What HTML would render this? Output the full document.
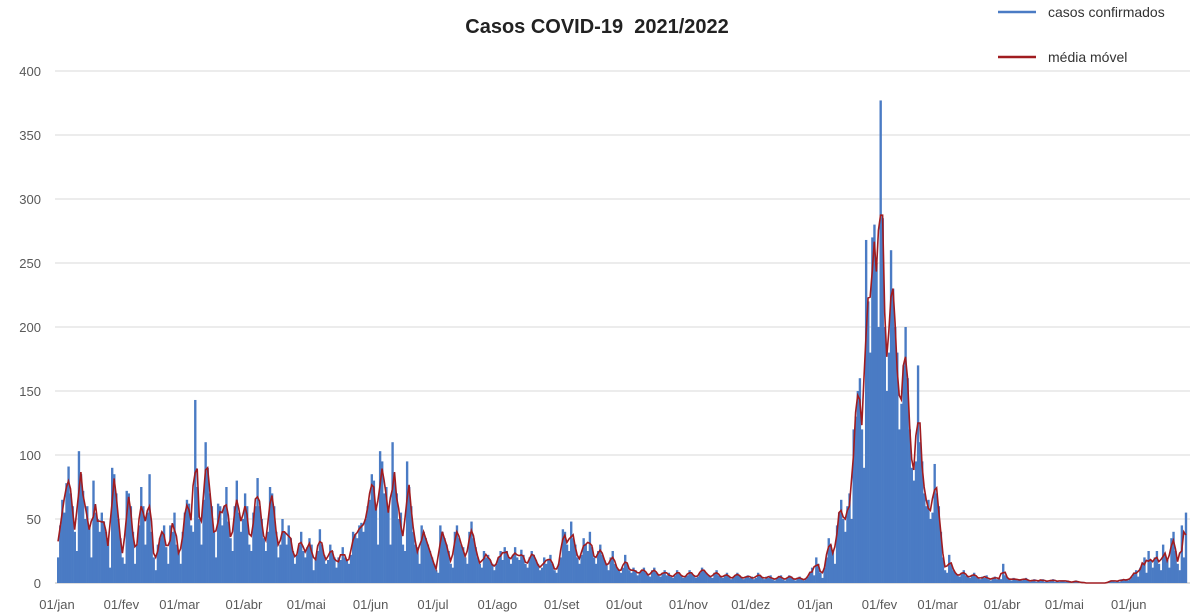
<!DOCTYPE html>
<html><head><meta charset="utf-8"><style>
body{margin:0;background:#fff;font-family:"Liberation Sans",sans-serif}
svg{display:block}
</style></head><body>
<svg id="chart" width="1200" height="615">
<text x="597" y="33" text-anchor="middle" font-size="20" font-weight="bold" fill="#222" style="white-space:pre">Casos COVID-19  2021/2022</text>
<g>
<line x1="998" y1="12" x2="1036" y2="12" stroke="#4a7bc4" stroke-width="2.5"/>
<text x="1048" y="17" font-size="14" fill="#333">casos confirmados</text>
<line x1="998" y1="57" x2="1036" y2="57" stroke="#a01c20" stroke-width="2.5"/>
<text x="1048" y="62" font-size="14" fill="#333">média móvel</text>
</g>
<g id="grid"></g><g id="bars"></g><g id="line"></g><g id="xl"></g>
</svg>
<script>
const yTicks=[0,50,100,150,200,250,300,350,400];
const xLabels=["01/jan","01/fev","01/mar","01/abr","01/mai","01/jun","01/jul","01/ago","01/set","01/out","01/nov","01/dez","01/jan","01/fev","01/mar","01/abr","01/mai","01/jun"];
const monthLengths=[31,28,31,30,31,30,31,31,30,31,30,31,31,28,31,30,31,28];
const cases=[
20,45,65,55,78,91,70,60,40,25,103,85,72,50,60,45,20,80,55,50,40,55,48,40,35,12,90,85,70,50,35,
20,15,72,70,60,40,15,30,45,75,60,30,55,85,40,20,10,30,35,40,45,28,15,45,40,55,30,25,
15,40,55,65,62,45,40,143,75,50,30,65,110,90,70,60,40,20,62,60,45,60,75,48,35,25,60,80,55,40,50,
70,60,30,25,55,60,82,60,50,35,25,40,75,70,60,40,20,30,50,40,30,45,35,25,15,22,30,40,25,20,
28,35,30,10,20,25,42,30,22,15,18,30,25,20,12,20,18,28,20,18,15,22,40,38,35,45,47,40,50,60,65,
85,80,60,30,103,95,70,75,60,30,110,80,70,50,55,30,25,95,75,60,40,30,28,15,45,40,35,30,25,20,
15,10,8,45,40,35,30,25,15,12,40,45,35,30,28,20,15,40,48,35,28,20,15,12,25,20,22,18,15,10,15,
20,25,18,28,25,20,15,22,28,20,18,26,22,15,12,20,25,22,18,15,10,12,20,15,18,22,15,10,8,15,20,
42,40,30,25,48,35,30,20,15,22,35,30,25,40,28,20,15,25,30,22,18,15,10,20,25,15,12,10,8,12,
22,15,10,8,12,10,6,8,10,12,8,6,5,10,12,8,6,5,8,10,6,8,5,4,6,10,8,6,4,5,6,
10,8,6,4,5,8,12,10,8,6,5,4,8,10,6,5,4,6,8,5,3,4,6,8,6,4,3,5,6,4,
5,3,4,8,6,4,3,5,4,6,3,2,4,5,6,3,2,4,6,5,3,2,4,5,3,2,3,5,8,12,6,
20,15,8,4,12,20,35,30,25,15,45,55,65,50,40,60,70,50,120,130,150,160,120,90,268,220,180,270,280,250,200,
377,285,200,150,180,260,230,200,180,120,140,170,200,160,120,90,80,95,170,110,95,70,60,65,50,55,93,70,
60,40,20,10,8,22,15,10,8,6,5,8,10,6,5,4,6,8,5,4,3,5,4,6,3,2,4,5,3,4,3,
15,6,4,3,2,4,3,2,3,2,3,4,2,1,2,3,1,2,2,3,1,2,1,2,3,1,2,1,2,2,
1,2,1,0,1,2,1,0,1,0,0,0,0,0,0,0,0,0,0,0,0,1,2,2,1,2,1,3,2,3,2,
3,5,8,10,5,12,15,20,8,25,18,12,20,25,15,10,30,22,18,12,35,40,25,15,10,45,20,55];
const NS='http://www.w3.org/2000/svg';
const x0=57,dx=2.077,y0=583,ky=512/400;
const X=i=>x0+i*dx, Y=v=>y0-v*ky;
function mk(t,a,p){const e=document.createElementNS(NS,t);for(const k in a)e.setAttribute(k,a[k]);p.appendChild(e);return e;}
const grid=document.getElementById('grid');
yTicks.forEach(v=>{
 const l=mk('line',{x1:55,x2:1190,y1:Y(v),y2:Y(v),stroke:v?'#d9d9d9':'#bbb','stroke-width':1},grid);
 
 
 const t=mk('text',{x:41,y:Y(v)+5,'text-anchor':'end','font-size':13,fill:'#595959'},grid);
 t.textContent=v;
 
 
});
const bars=document.getElementById('bars');
cases.forEach((v,i)=>{
 const r=mk('rect',{x:X(i),y:Y(v),width:dx+0.3,height:v*ky,fill:'#4a7bc4'},bars);
 
 
});
const avg=cases.map((v,i)=>{let s=0,n=0;for(let j=i-1;j<=i+1;j++)if(j>=0&&j<cases.length){s+=cases[j];n++;}return s/n;});
const pl=mk('polyline',{points:avg.map((v,i)=>X(i+0.5)+','+Y(v)).join(' '),fill:'none',stroke:'#a01c20','stroke-width':1.6},document.getElementById('line'));


const xl=document.getElementById('xl');let d=0;
xLabels.forEach((s,k)=>{
 const t=mk('text',{x:X(d),y:609,'text-anchor':'middle','font-size':13,fill:'#595959'},xl);
 t.textContent=s;
 
 
 d+=monthLengths[k];
});
</script>
</body></html>
